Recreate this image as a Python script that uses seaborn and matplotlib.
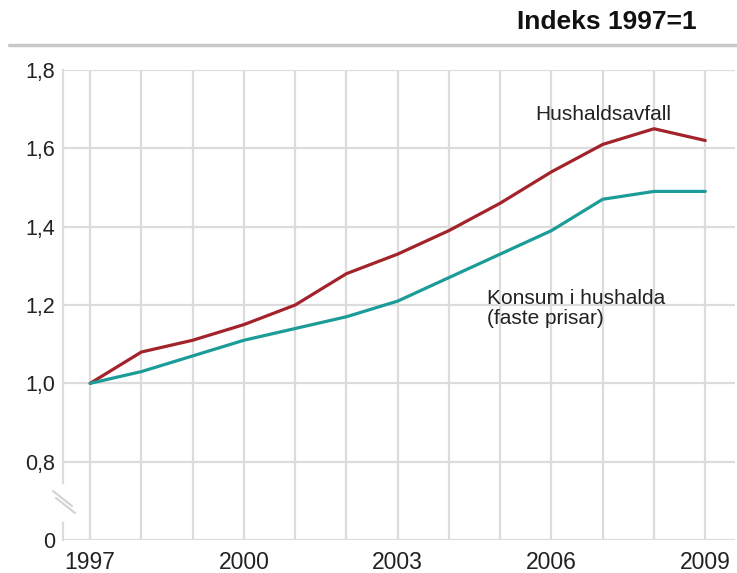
import matplotlib
matplotlib.use("Agg")
import matplotlib.pyplot as plt
import seaborn as sns
import pandas as pd
from matplotlib.lines import Line2D

years = list(range(1997, 2010))
avfall = [1.00, 1.08, 1.11, 1.15, 1.20, 1.28, 1.33, 1.39, 1.46, 1.54, 1.61, 1.65, 1.62]
konsum = [1.00, 1.03, 1.07, 1.11, 1.14, 1.17, 1.21, 1.27, 1.33, 1.39, 1.47, 1.49, 1.49]
ytick_vals = [0.6, 0.8, 1.0, 1.2, 1.4, 1.6, 1.8]
ytick_labels = ["0", "0,8", "1,0", "1,2", "1,4", "1,6", "1,8"]
xtick_labels = ["1997", "2000", "2003", "2006", "2009"]

sns.set_style("white")
plt.rcParams['font.family'] = ['Liberation Sans', 'DejaVu Sans']

df = pd.DataFrame({
    "year": years * 2,
    "value": avfall + konsum,
    "series": ["Hushaldsavfall"] * len(years) + ["Konsum"] * len(years),
})

fig = plt.figure(figsize=(7.37, 5.73), dpi=100)
ax = fig.add_axes([63/737, 1 - 540/573, (735-63)/737, (540-70)/573])

grid_c = "#dcdcdc"
sns.lineplot(data=df, x="year", y="value", hue="series",
             palette={"Hushaldsavfall": "#A3232B", "Konsum": "#1B9C98"},
             linewidth=2.3, ax=ax, legend=False, zorder=3)

ax.set_xlim(1996.47, 2009.58)
ax.set_ylim(0.6, 1.8)
ax.set_xticks(years)
ax.set_xticklabels([str(y) if str(y) in xtick_labels else "" for y in years])
ax.set_yticks(ytick_vals)
ax.set_yticklabels(ytick_labels)
ax.grid(True, color=grid_c, linewidth=1.6, zorder=0)
ax.set_axisbelow(True)
ax.tick_params(axis="y", length=0, labelsize=15.5, colors="#222222", pad=5.5)
ax.tick_params(axis="x", length=0, labelsize=16.5, colors="#222222", pad=8)
ax.set_xlabel("")
ax.set_ylabel("")
for s in ["top", "right", "bottom"]:
    ax.spines[s].set_visible(False)
ax.spines["left"].set_color(grid_c)
ax.spines["left"].set_linewidth(1.6)
ax.spines["left"].set_bounds(0.6, 1.8)

# axis break: white gap + two slashes
def fx(px):
    return px / 737

def fy(py):
    return 1 - py / 573

fig.add_artist(Line2D([fx(63), fx(63)], [fy(519), fy(487)], transform=fig.transFigure,
                      color="white", linewidth=4, zorder=10))
fig.add_artist(Line2D([fx(53), fx(72)], [fy(491), fy(506)], transform=fig.transFigure,
                      color="#d2d2d2", linewidth=1.5, zorder=11))
fig.add_artist(Line2D([fx(56), fx(75)], [fy(498), fy(513)], transform=fig.transFigure,
                      color="#d2d2d2", linewidth=1.5, zorder=11))

# top rule and title
fig.add_artist(Line2D([fx(9), 1.0], [fy(45), fy(45)], transform=fig.transFigure,
                      color="#c8c8c8", linewidth=2.5))
fig.text(fx(697), fy(22), "Indeks 1997=1", ha="right", va="center",
         fontsize=19, fontweight="bold", color="#111111",
         family=['Liberation Sans Narrow', 'Liberation Sans', 'DejaVu Sans'])

ax.text(2005.68, 1.687, "Hushaldsavfall", ha="left", va="center", fontsize=15, color="#222222")
ax.text(2004.75, 1.24, "Konsum i hushalda\n(faste prisar)", ha="left", va="top",
        fontsize=15, color="#222222", linespacing=1.05)

fig.savefig("out.png", dpi=100, facecolor="white")
